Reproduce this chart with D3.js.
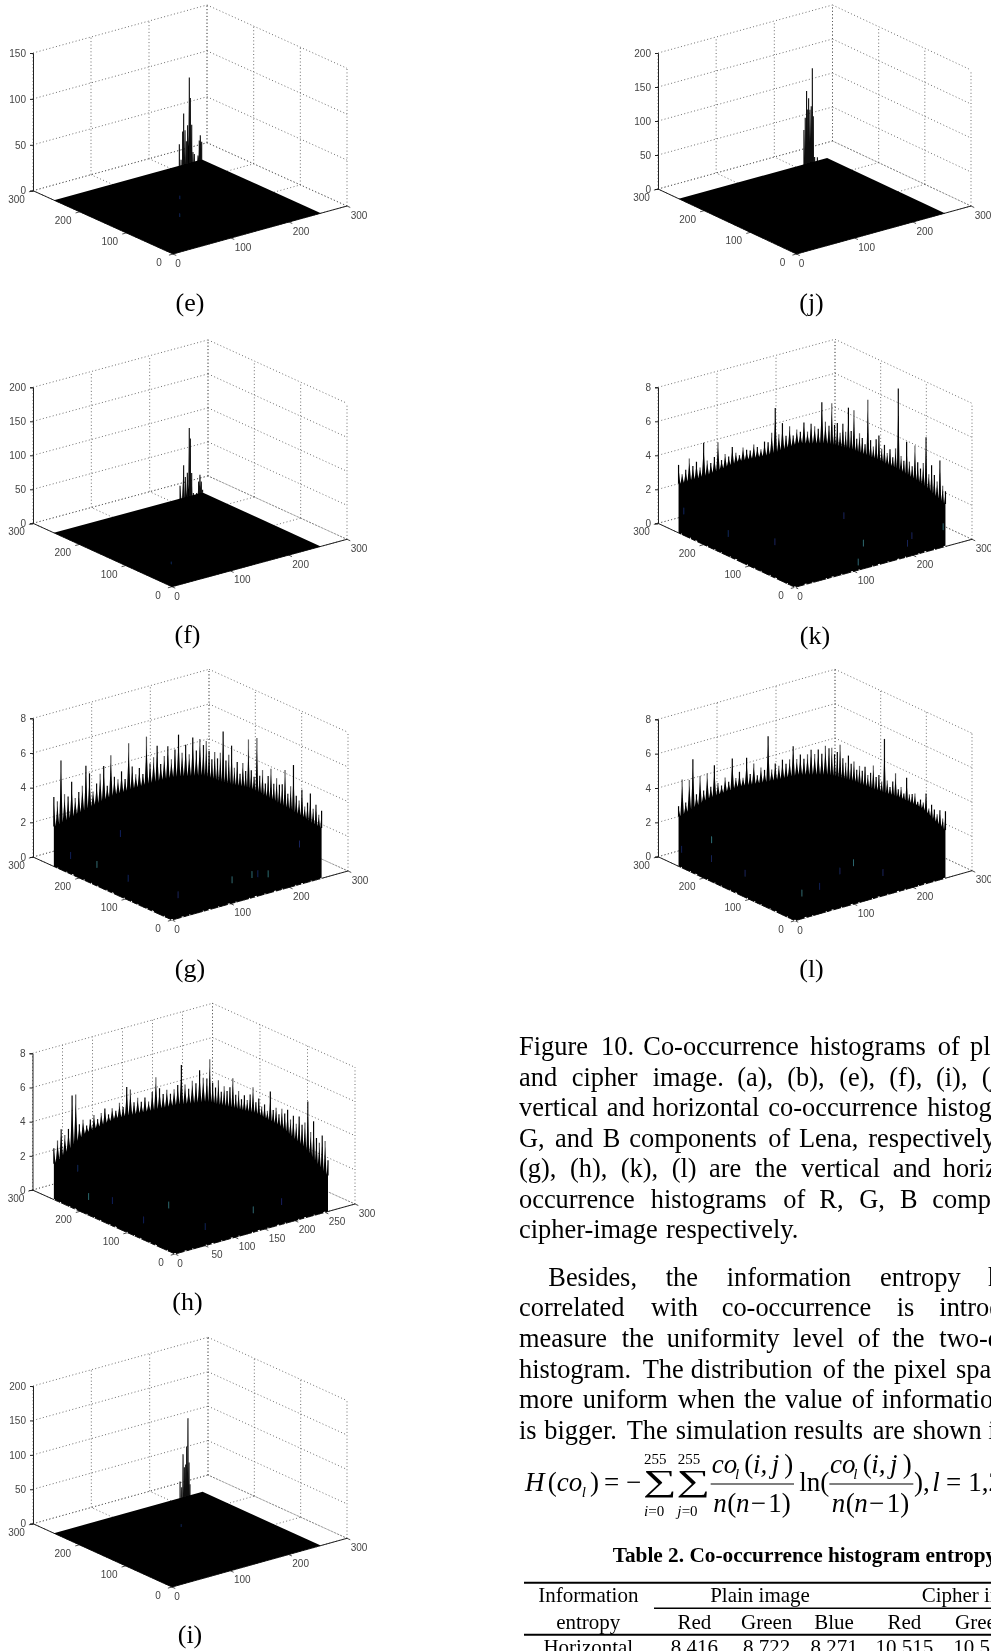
<!DOCTYPE html>
<html><head><meta charset="utf-8">
<script src="https://cdn.jsdelivr.net/npm/d3@7/dist/d3.min.js"></script>
<style>html,body{margin:0;padding:0;background:#fff;overflow:hidden}svg{display:block}</style>
</head><body>
<svg id="page" width="991" height="1651"></svg>
<script>
// ---- tick labels ----
const ticks100 = [0,100,200,300];
const ticks50 = [0,50,100,150,200,250,300];
const zTicks150 = [0,50,100,150];
const zTicks200 = [0,50,100,150,200];
const zTicks8 = [0,2,4,6,8];

// ---- spikes of the peaked histograms: position along the diagonal and count ----
const eDiag = [56,71,85,94,106,118,129,144,153,165,176,188,206,221,232,241,253];
const eCount = [97,74,99,115,92,75,88,134,108,74,40,33,18,18,30,32,20];
const fDiag = [67,97,111,128,144,153,164,178,206,222,233,244,255];
const fCount = [112,126,101,98,155,135,78,41,26,34,38,22,4];
const iDiag = [67,81,92,103,114,122,133,142,150];
const iCount = [117,101,143,118,116,138,173,104,68];
const jDiag = [62,73,84,93,101,112,123,132,140,151,174];
const jCount = [148,160,193,161,173,150,149,200,125,59,46];

// ---- flat histograms: crest of the mass along the back rim (11 points) ----
const gBase = [2.3,2.8,3.2,3.3,3.3,2.9,3.05,3.4,3.3,3.15,2.9];
const hBase = [2.1,3.4,3.8,3.7,3.6,3.3,3.6,3.9,3.8,3.2,2.1];
const kBase = [2.9,3.0,3.3,3.2,3.4,2.9,3.2,3.3,3.3,3.1,2.5];
const lBase = [2.9,3.5,3.7,3.5,3.4,2.9,3.2,3.3,3.5,3.5,2.8];

// ---- flat histograms: spikes along the back rim, left corner to right corner ----
const gSpikes = [4.0,3.7,6.0,4.0,3.8,4.6,3.6,3.9,4.2,5.3, 4.8,3.7,4.1,4.6,5.0,3.8,5.5,4.2,4.0,4.4,
 3.9,5.9,4.5,4.0,4.3,3.9,6.0,4.4,4.7,5.3, 4.2,4.6,5.1,4.3,4.8,5.6,4.5,4.9,4.3,5.2,
 4.4,5.0,4.6,4.9,4.4,4.0,4.5,4.2,4.6,5.9, 4.3,4.7,5.3,4.1,4.5,3.9,4.6,4.2,6.1,4.4,
 4.1,6.4,4.3,4.7,4.0,4.5,5.0,4.2,4.6,4.3, 4.4,5.3,4.0,4.5,5.8,4.1,3.9,4.6,3.7,4.0, 4.6,3.8,4.1,3.6,3.9];
const hSpikes = [3.0,3.4,4.0,3.6,3.9,5.8,5.8,4.0,4.2,3.8, 4.1,4.3,4.0,4.3,4.5,4.1,4.4,4.2,4.6,4.3,
 5.4,5.2,4.4,4.6,4.3,4.5,4.2,4.7,5.5,4.8, 4.4,4.6,4.3,4.5,4.7,5.8,4.6,4.3,4.7,4.5,
 5.2,4.7,4.6,5.8,4.5,4.3,4.8,4.2,4.6,4.4, 4.7,5.3,4.4,4.7,4.3,4.6,4.4,4.8,5.3,4.5,
 4.8,4.4,4.6,4.3,5.5,4.5,4.7,4.4,4.8,4.6, 4.9,4.4,4.7,4.3,4.8,4.4,4.6,5.9,4.2,4.9, 4.0,3.8,4.3,4.05,3.0];
const kSpikes = [4.0,3.4,3.6,4.2,3.7,3.9,3.5,4.9,3.8,3.6, 3.9,4.7,3.6,3.9,3.7,4.2,3.8,3.6,4.0,3.8,
 3.7,4.0,3.8,3.6,4.0,3.9,4.4,5.8,4.2,4.8, 4.0,4.5,3.9,4.2,4.0,4.5,3.9,4.3,4.1,3.9,
 5.4,4.2,3.9,5.3,4.1,4.3,3.8,4.4,4.0,5.5, 4.2,5.5,3.9,4.3,4.1,3.8,6.5,4.2,3.9,4.4,
 4.7,4.0,4.3,3.9,4.2,3.8,4.4,8.0,4.1,3.9, 5.1,4.0,3.8,5.1,4.2,3.9,4.3,5.9,3.8,4.4, 3.9,3.6,4.9,3.5,3.25];
const lSpikes = [3.5,5.0,3.6,4.85,6.0,3.9,4.9,4.0,4.95,4.1, 5.3,4.2,4.0,4.4,4.1,5.4,4.2,4.5,4.1,5.2,
 4.2,4.75,4.0,4.4,4.2,6.1,4.1,4.4,4.2,4.5, 4.2,4.4,5.1,4.3,4.5,4.2,4.4,4.6,4.3,4.5,
 4.2,4.6,4.4,4.5,4.2,4.4,4.9,4.2,4.0,4.5, 4.1,4.3,3.9,4.2,4.0,4.3,3.9,4.1,4.6,4.0,
 4.2,3.9,6.45,4.1,3.8,4.2,4.75,3.9,4.1,3.8, 4.8,3.9,4.0,4.1,3.7,3.9,3.8,4.4,3.6,3.9, 3.7,3.5,3.8,3.4,3.9];

// ---- coloured bars seen through the black mass: x, y, z ----
const eSpecks = [[126,142,5],[84,90,5]];
const fSpecks = [[44,57,5]];
const iSpecks = [[142,159,5]];
const jSpecks = [];
const gSpecks = [[149,59,0],[57,59,0],[43,149,0],[201,47,0],[245,35,1.45],[70,200,1.7],[30,200,.3],[5,225,.75],[170,30,.5],[160,30,.55]];
const hSpecks = [[174,55,0],[222,56,0],[86,45,0],[98,137,0],[38,114,0],[50,195,0],[35,226,0],[20,230,1.75]];
const kSpecks = [[167,66,0],[214,30,0],[209,163,0],[255,5,.9],[75,141,0],[44,203,0],[118,14,0],[5,250,1.1],[236,49,0]];
const lSpecks = [[25,215,1.6],[25,215,.5],[47,170,0],[62,65,0],[96,70,0],[152,98,0],[185,111,0],[194,58,0],[3,252,.8]];

// ---- page text ----
const captions = [["(e)",190,310.5],["(f)",187.5,643],["(g)",190,976.5],["(h)",187.5,1310],["(i)",190,1643],["(j)",811.5,310.5],["(k)",815,644],["(l)",811.5,976.5]];
const bodyLines = [
 [1055,[[519,"Figure"],[601,"10."],[643.3,"Co-occurrence"],[810,"histograms"],[937.7,"of"],[970,"plain"]]],
 [1085.7,[[519,"and"],[571.7,"cipher"],[652.7,"image."],[737.3,"(a),"],[787.3,"(b),"],[839.3,"(e),"],[889.3,"(f),"],[936,"(i),"],[981.7,"(j)"]]],
 [1116,[[519,"vertical"],[606.7,"and"],[652.3,"horizontal"],[768.3,"co-occurrence"],[927.3,"histograms"]]],
 [1146.7,[[519,"G,"],[555,"and"],[602.7,"B"],[629.3,"components"],[768.3,"of"],[799,"Lena,"],[868.3,"respectively."]]],
 [1177.3,[[519,"(g),"],[570,"(h),"],[620.7,"(k),"],[671.7,"(l)"],[709,"are"],[755,"the"],[801,"vertical"],[892.7,"and"],[942.7,"horizontal"]]],
 [1208.3,[[519,"occurrence"],[650.7,"histograms"],[783.3,"of"],[819.3,"R,"],[859.3,"G,"],[900,"B"],[932.3,"components"]]],
 [1238.3,[[519,"cipher-image"],[666,"respectively."]]],
 [1285.7,[[548.3,"Besides,"],[665.7,"the"],[726.7,"information"],[880,"entropy"],[988,"highly"]]],
 [1315.7,[[519,"correlated"],[651,"with"],[721.7,"co-occurrence"],[896.7,"is"],[939.3,"introduced"]]],
 [1346.7,[[519,"measure"],[621.7,"the"],[666.7,"uniformity"],[792.7,"level"],[857.7,"of"],[892.3,"the"],[939.3,"two-dimensional"]]],
 [1377.7,[[519,"histogram."],[642.7,"The"],[690.7,"distribution"],[822.7,"of"],[852.7,"the"],[894,"pixel"],[956,"spatial"]]],
 [1408.3,[[519,"more"],[582.7,"uniform"],[677.7,"when"],[744,"the"],[785,"value"],[851.7,"of"],[881.7,"information"]]],
 [1439,[[519,"is"],[544.3,"bigger."],[626.7,"The"],[675.7,"simulation"],[794,"results"],[872.7,"are"],[912.7,"shown"],[988.3,"in"]]]
];
const tableHeader1 = ["Information","Plain image"];
const tableChannels = ["Red","Green","Blue","Red"];
const tableRowName = "Horizontal";
const tableRowValues = ["8.416","8.722","8.271","10.515"];

// ---- panel placement on the page ----
const panels = [
 {L:[33,190.7],F:[173,254],R:[347,206],top:53,zMax:150,zt:zTicks150,xt:ticks100,diag:eDiag,count:eCount,specks:eSpecks},
 {L:[33,523.3],F:[172,586.7],R:[347,539.3],top:387.3,zMax:200,zt:zTicks200,xt:ticks100,diag:fDiag,count:fCount,specks:fSpecks},
 {L:[33,857],F:[172,920],R:[348,871],top:718.3,zMax:8,zt:zTicks8,xt:ticks100,base:gBase,spikes:gSpikes,specks:gSpecks},
 {L:[32.5,1190],F:[175,1254],R:[355,1204],top:1053.3,zMax:8,zt:zTicks8,xt:ticks50,base:hBase,spikes:hSpikes,specks:hSpecks},
 {L:[33,1523.7],F:[172,1587],R:[347,1538.3],top:1386,zMax:200,zt:zTicks200,xt:ticks100,diag:iDiag,count:iCount,specks:iSpecks},
 {L:[658,189],F:[796.5,254],R:[971,206],top:53,zMax:200,zt:zTicks200,xt:ticks100,diag:jDiag,count:jCount,specks:jSpecks},
 {L:[658,523.3],F:[795,587.3],R:[972,539.3],top:387.3,zMax:8,zt:zTicks8,xt:ticks100,base:kBase,spikes:kSpikes,specks:kSpecks},
 {L:[658,856.7],F:[795,920.7],R:[972,870.7],top:719.3,zMax:8,zt:zTicks8,xt:ticks100,base:lBase,spikes:lSpikes,specks:lSpecks}
];

const svg = d3.select("#page");
const defs = svg.append("defs");
defs.append("filter").attr("id","soft").attr("x","-5%").attr("y","-5%").attr("width","110%").attr("height","110%")
  .append("feGaussianBlur").attr("stdDeviation",0.35);
const SANS = "'Liberation Sans',Arial,sans-serif", SERIF = "'Liberation Serif','Times New Roman',serif";
const poly = d3.line();
const INK = "#000", GRID = "#555", AXIS = "#222", LABEL = "#444";

panels.forEach(p => {
  const g = svg.append("g").attr("filter","url(#soft)");
  const ux = d3.scaleLinear([0,300],[0,1]), uy = d3.scaleLinear([0,300],[0,1]);
  const uz = d3.scaleLinear([0,p.zMax],[0,p.L[1]-p.top]);
  const P = (x,y,z=0) => [
    p.F[0] + ux(x)*(p.R[0]-p.F[0]) + uy(y)*(p.L[0]-p.F[0]),
    p.F[1] + ux(x)*(p.R[1]-p.F[1]) + uy(y)*(p.L[1]-p.F[1]) - uz(z)];
  const zm = p.zMax, seg = (a,b,s) => g.append("path").attr("d",poly([a,b])).attr("fill","none").attr("stroke",s.c).attr("stroke-width",s.w).attr("stroke-dasharray",s.d||null);
  const dot = {c:GRID,w:.85,d:"1 2.4"};

  // walls and floor grid
  p.xt.forEach(x => { seg(P(x,300,0),P(x,300,zm),dot); seg(P(x,0,0),P(x,300,0),dot); });
  ticks100.forEach(y => { seg(P(300,y,0),P(300,y,zm),dot); seg(P(0,y,0),P(300,y,0),dot); });
  p.zt.forEach(z => { seg(P(0,300,z),P(300,300,z),dot); seg(P(300,300,z),P(300,0,z),dot); });

  // z axis
  const zAxisScale = d3.scaleLinear([0,p.zMax],[p.L[1],p.top]);
  const za = g.append("g").attr("transform",`translate(${p.L[0]},0)`)
    .call(d3.axisLeft(zAxisScale).tickValues(p.zt).tickSize(3).tickPadding(4));
  za.selectAll("path,line").attr("stroke",AXIS);
  za.selectAll("text").attr("font-family",SANS).attr("font-size",10).attr("fill",LABEL);

  // floor axes
  seg(P(0,0),P(300,0),{c:AXIS,w:1}); seg(P(0,0),P(0,300),{c:AXIS,w:1});
  p.xt.forEach(x => {
    seg(P(x,0),P(x,-7),{c:AXIS,w:.8});
    const a = P(x,0);
    g.append("text").attr("x",a[0]+(x===0?5:12)).attr("y",a[1]+(x===0?13:12.5)).attr("text-anchor","middle")
      .attr("font-family",SANS).attr("font-size",10).attr("fill",LABEL).text(x);
  });
  ticks100.forEach(y => {
    seg(P(0,y),P(-7,y),{c:AXIS,w:.8});
    const a = P(0,y);
    g.append("text").attr("x",a[0]-(y===0?14:16.5)).attr("y",a[1]+12).attr("text-anchor","middle")
      .attr("font-family",SANS).attr("font-size",10).attr("fill",LABEL).text(y);
  });

  const M = 255;
  if (p.spikes) {
    // rim: t runs 0..255 along y=255, then 255..510 along x=255
    const rim = (t,z) => t<=M ? P(t,M,z) : P(M,510-t,z);
    const baseT = d3.scaleLinear([0,p.base.length-1],[0,510]);
    const baseAt = d3.scaleLinear(p.base.map((_,i)=>baseT(i)),p.base);
    const spikeT = d3.scaleLinear([0,p.spikes.length-1],[0,510]);
    const shades = ["#000","#555","#111","#666","#000"];
    const crest = [];
    p.spikes.forEach((z,i)=>{
      const t = spikeT(i), b = baseAt(t);
      seg(rim(t,b),rim(t,z),{c:shades[i%5],w:1.2});
      crest.push(rim(t,b+.82*(z-b)));
      if (i<p.spikes.length-1) crest.push(rim(t+3,baseAt(t+3)-.05));
    });
    g.append("path").attr("d",poly([P(0,0),P(M,0),...crest.slice().reverse(),P(0,M)])+"Z").attr("fill",INK);
    // pale chips left along the front edges by the separated bars
    [[P(0,0),P(M,0),"1 9 2 6 1 13 1 5 2 8"],[P(0,0),P(0,M),"1 7 1 11 2 5 1 9 1 6"]].forEach(e=>
      seg(e[0],e[1],{c:"#fff",w:1.3,d:e[2]}));
  } else {
    const pts = [];
    p.diag.forEach((t,i)=>{
      pts.push(P(t,t,p.count[i]));
      if (i<p.diag.length-1) {
        const m = (t+p.diag[i+1])/2;
        pts.push(P(m,m,.7*Math.min(p.count[i],p.count[i+1])));
      }
    });
    const first = p.diag[0], last = p.diag[p.diag.length-1];
    g.append("path").attr("d",poly([P(first,first),...pts,P(last,last)])+"Z").attr("fill","#000");
    p.diag.forEach((t,i)=>seg(P(t,t,0),P(t,t,p.count[i]),{c:"#111",w:1.1}));
    g.append("path").attr("d",poly([P(0,0),P(M,0),P(M,M),P(0,M)])+"Z").attr("fill",INK);
  }
  const streak = p.zMax===8 ? .4 : 4;
  p.specks.forEach((s,i)=>seg(P(s[0],s[1],s[2]),P(s[0],s[1],s[2]+streak),{c:i%3===0&&p.zMax===8?"#2f6a72":"#14235c",w:1}));
});

// ---- text ----
const txt = svg.append("g").attr("font-family",SERIF).attr("fill","#000").attr("filter","url(#soft)");
const T = (s,x,y,fs,o={}) => txt.append("text").attr("x",x).attr("y",y).attr("font-size",fs)
   .attr("text-anchor",o.a||"start").attr("font-style",o.i?"italic":null).attr("font-weight",o.b?"bold":null).text(s);
captions.forEach(c=>T(c[0],c[1],c[2],26,{a:"middle"}));
bodyLines.forEach(l=>l[1].forEach(w=>T(w[1],w[0],l[0],26.4)));

// equation
const E = 500, ez = v => 1340+v/3, ex = v => E+v/3;
T("H",ex(75),ez(452),27,{i:1}); T("(",ex(143),ez(452),27); T("co",ex(170),ez(452),27,{i:1});
T("l",ex(245),ez(470),15,{i:1}); T(")",ex(270),ez(452),27); T("=",ex(312),ez(452),27); T("\u2212",ex(378),ez(452),27);
[430,530].forEach(sx=>txt.append("text").attr("transform",`translate(${ex(sx)},1491) scale(1.55,1)`).attr("font-size",30.5).text("\u2211"));
T("255",ex(432),ez(372),15); T("255",ex(533),ez(372),15);
T("i",ex(432),ez(528),15,{i:1}); T("=0",ex(445),ez(528),15);
T("j",ex(532),ez(528),15,{i:1}); T("=0",ex(545),ez(528),15);
[[635,632,882,640],[990,988,1240,995]].forEach(f=>{
  T("co",ex(f[0]),ez(400),27,{i:1}); T("l",ex(f[0]+70),ez(417),15,{i:1});
  T("(",ex(f[0]+98),ez(400),27); T("i,",ex(f[0]+124),ez(400),27,{i:1}); T("j",ex(f[0]+180),ez(400),27,{i:1}); T(")",ex(f[0]+218),ez(400),27);
  txt.append("line").attr("x1",ex(f[1])).attr("x2",ex(f[2])).attr("y1",ez(432)).attr("y2",ez(432)).attr("stroke","#000").attr("stroke-width",1.1);
  T("n",ex(f[3]),ez(515),27,{i:1}); T("(",ex(f[3]+42),ez(515),27); T("n",ex(f[3]+68),ez(515),27,{i:1});
  T("\u2212",ex(f[3]+112),ez(515),27); T("1)",ex(f[3]+165),ez(515),27);
});
T("ln(",ex(898),ez(452),27); T("),",ex(1242),ez(452),27); T("l",ex(1297),ez(452),27,{i:1}); T("=",ex(1338),ez(452),27); T("1,2",ex(1405),ez(452),27);

// table
T("Table 2. Co-occurrence histogram entropy",612.7,1561.7,21.3,{b:1});
[[524,1582.7,2],[654,1608.3,1.6],[524,1634.7,2]].forEach(r=>
  txt.append("line").attr("x1",r[0]).attr("x2",991).attr("y1",r[1]).attr("y2",r[1]).attr("stroke","#000").attr("stroke-width",r[2]));
T(tableHeader1[0],588.3,1602.3,21,{a:"middle"}); T(tableHeader1[1],760,1602.3,21,{a:"middle"}); T("Cipher image",921.7,1602.3,21);
T("entropy",588.3,1629.3,21,{a:"middle"});
const colX = [694.3,766.7,834,904.3];
tableChannels.forEach((c,i)=>T(c,colX[i],1629.3,21,{a:"middle"})); T("Green",955,1629.3,21);
T(tableRowName,588.3,1654,21,{a:"middle"});
tableRowValues.forEach((v,i)=>T(v,colX[i],1654,21,{a:"middle"})); T("10.5",953.3,1654,21);
</script>
</body></html>
